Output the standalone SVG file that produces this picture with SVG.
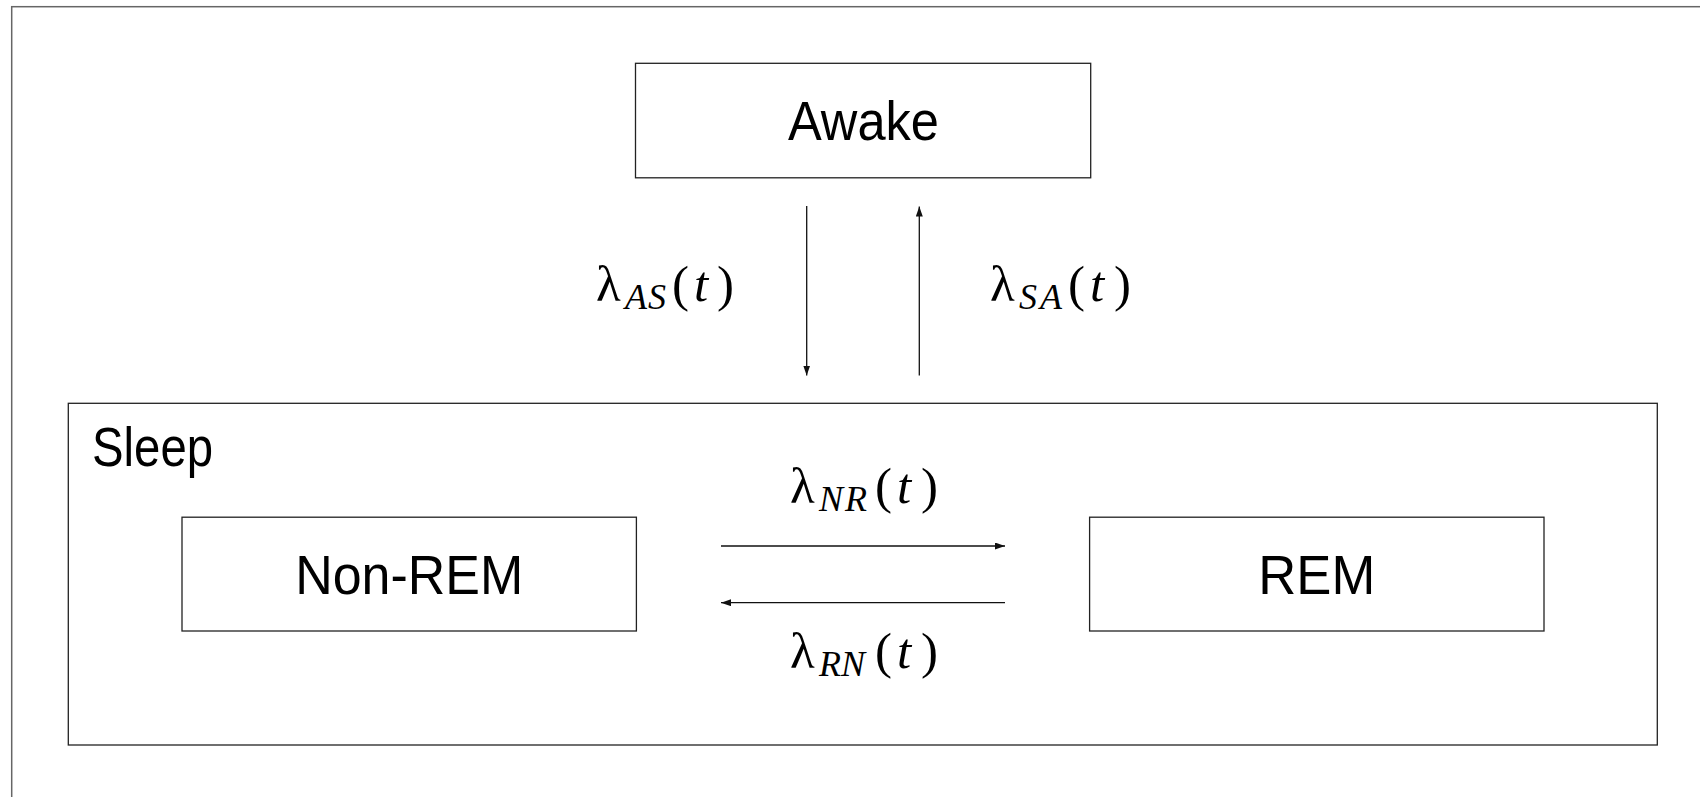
<svg xmlns="http://www.w3.org/2000/svg" width="1700" height="797" viewBox="0 0 1700 797">
<style>
.box{fill:#fff;stroke:#222;stroke-width:1.3}
.lbl{font-family:"Liberation Sans",Arial,sans-serif;font-size:55px;fill:#000}
.math{font-family:"Liberation Serif","Times New Roman",serif;font-size:51px;fill:#000}
.sub{font-size:36px;font-style:italic}
.it{font-style:italic}
.conn{stroke:#111;stroke-width:1.3;fill:none;marker-end:url(#arr)}
</style>
<defs>
<marker id="arr" markerUnits="userSpaceOnUse" markerWidth="10" markerHeight="7" refX="10" refY="3.5" orient="auto">
<path d="M0,0 L10,3.5 L0,7 z" fill="#111"/>
</marker>
</defs>
<rect x="0" y="0" width="1700" height="797" fill="#fff"/>
<rect x="11.7" y="6.7" width="1710" height="810" fill="none" stroke="#666" stroke-width="1.5"/>
<g id="awake">
<rect class="box" x="635.5" y="63.3" width="455.2" height="114.5"/>
<text class="lbl" x="863.5" y="140" text-anchor="middle" textLength="151" lengthAdjust="spacingAndGlyphs">Awake</text>
</g>
<g id="sleep">
<rect class="box" x="68.3" y="403.3" width="1589" height="341.7"/>
<text class="lbl" x="92" y="466" textLength="121" lengthAdjust="spacingAndGlyphs">Sleep</text>
</g>
<g id="nonrem">
<rect class="box" x="182" y="517.2" width="454.4" height="113.8"/>
<text class="lbl" x="409.2" y="594" text-anchor="middle" textLength="228" lengthAdjust="spacingAndGlyphs">Non-REM</text>
</g>
<g id="rem">
<rect class="box" x="1089.6" y="517.2" width="454.4" height="113.8"/>
<text class="lbl" x="1316.8" y="594" text-anchor="middle" textLength="117" lengthAdjust="spacingAndGlyphs">REM</text>
</g>
<g id="connectors">
<line class="conn" x1="806.7" y1="206" x2="806.7" y2="375.5"/>
<line class="conn" x1="919.3" y1="375.5" x2="919.3" y2="206.5"/>
<line class="conn" x1="721" y1="546" x2="1005" y2="546"/>
<line class="conn" x1="1005" y1="602.7" x2="721" y2="602.7"/>
<text class="math"><tspan x="596" y="301">λ</tspan><tspan class="sub" x="625" y="309">A</tspan><tspan class="sub" x="648" y="309">S</tspan><tspan x="672" y="301">(</tspan><tspan class="it" x="694" y="301">t</tspan><tspan x="717" y="301">)</tspan></text>
<text class="math"><tspan x="990" y="301">λ</tspan><tspan class="sub" x="1019" y="309">S</tspan><tspan class="sub" x="1040" y="309">A</tspan><tspan x="1068" y="301">(</tspan><tspan class="it" x="1090" y="301">t</tspan><tspan x="1114" y="301">)</tspan></text>
<text class="math"><tspan x="790" y="503">λ</tspan><tspan class="sub" x="819" y="511">N</tspan><tspan class="sub" x="845" y="511">R</tspan><tspan x="875" y="503">(</tspan><tspan class="it" x="897" y="503">t</tspan><tspan x="921" y="503">)</tspan></text>
<text class="math"><tspan x="790" y="668">λ</tspan><tspan class="sub" x="819" y="676">R</tspan><tspan class="sub" x="841" y="676">N</tspan><tspan x="875" y="668">(</tspan><tspan class="it" x="897" y="668">t</tspan><tspan x="921" y="668">)</tspan></text>
</g>
</svg>
